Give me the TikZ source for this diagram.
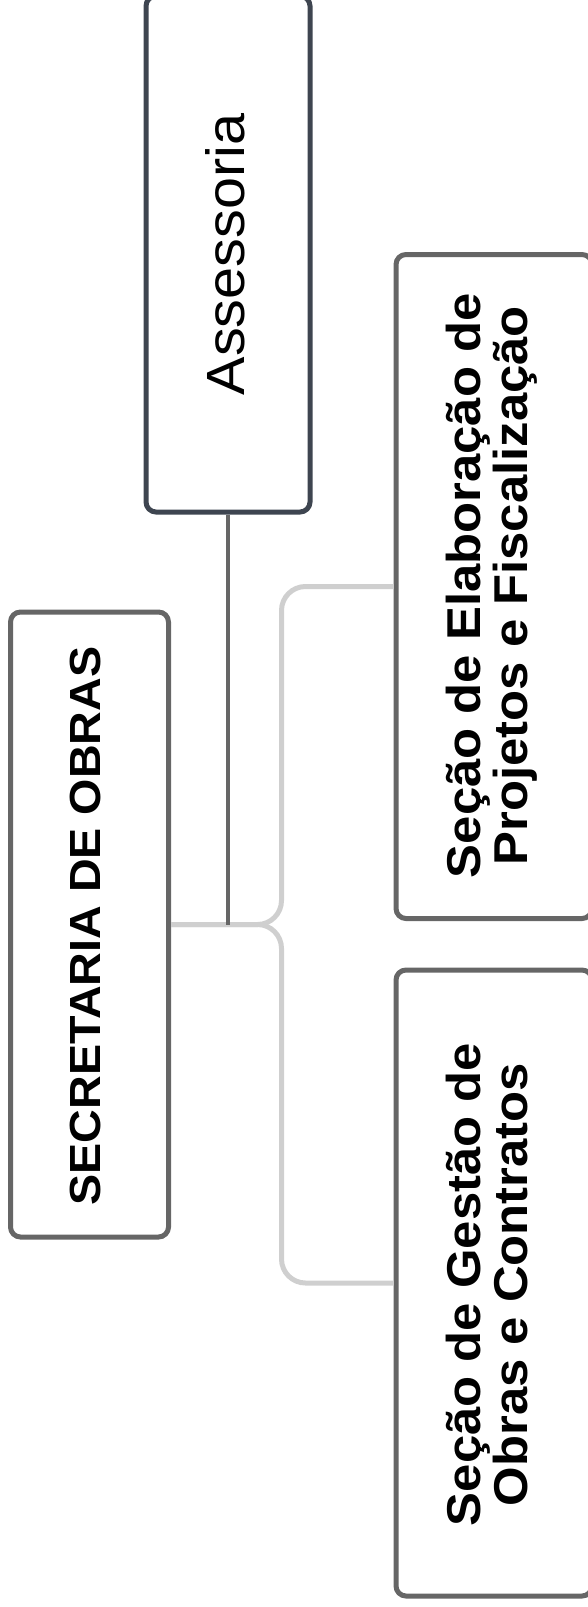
\documentclass[tikz,border=0pt]{standalone}
\usepackage{fontspec}
\setmainfont{Liberation Sans}[FakeStretch=1.07]
\definecolor{boxgray}{HTML}{666666}
\definecolor{boxslate}{HTML}{3E4550}
\definecolor{linklight}{HTML}{CFCFCF}
\tikzset{
  orgbox/.style={draw=boxgray, fill=white, line width=5pt, rounded corners=10pt, rotate=90, inner sep=0pt},
  boxtext/.style={rotate=90, align=center, inner sep=0pt, font=\fontsize{47.5}{46.5}\selectfont\bfseries},
  link/.style={draw=linklight, line width=5pt, rounded corners=24pt}
}
\begin{document}
\begin{tikzpicture}[x=1pt, y=-1pt]
        \useasboundingbox (0,0) rectangle (587,1607);
        % Boxes
        \node[orgbox, minimum width=625pt, minimum height=158pt] (secretaria) at (89.5,924.5) {};
        \node[orgbox, draw=boxslate, minimum width=516pt, minimum height=164pt] (assessoria) at (228,254) {};
        \node[orgbox, minimum width=664pt, minimum height=196pt] (elaboracao) at (494,586.5) {};
        \node[orgbox, minimum width=626pt, minimum height=196pt] (gestao) at (494,1283) {};
        % Connectors
        \coordinate (bend) at (281.5,924.5);
        \draw[link] (secretaria.south) -- (bend) -- (bend |- elaboracao.north) -- (elaboracao.north);
        \draw[link] (secretaria.south) -- (bend) -- (bend |- gestao.north) -- (gestao.north);
        % Assessoria link
        \draw[boxgray, line width=4pt] (assessoria.west) -- (assessoria.west |- bend);
        % Labels
        \node[boxtext, font=\fontsize{43.6}{46}\selectfont\bfseries] (secretariatext) at (85.5,926) {SECRETARIA DE OBRAS};
        \node[boxtext, font=\fontsize{53.8}{56}\selectfont] (assessoriatext) at (225,254.5) {Assessoria};
        \node[boxtext] (elaboracaotext) at (491.5,585.7) {Seção de Elaboração de\\Projetos e Fiscalização};
        \node[boxtext] (gestaotext) at (487,1284.5) {Seção de Gestão de\\Obras e Contratos};
      \end{tikzpicture}
\end{document}
